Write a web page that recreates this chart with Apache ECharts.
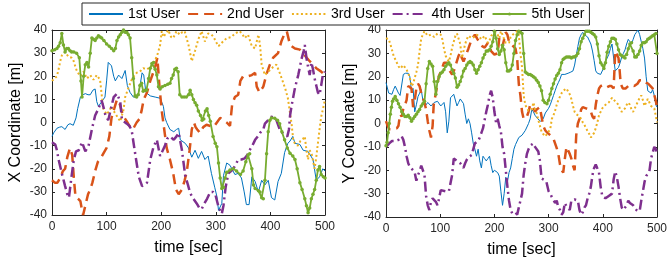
<!DOCTYPE html>
<html>
<head>
<meta charset="utf-8">
<script src="https://cdn.jsdelivr.net/npm/echarts@6/dist/echarts.min.js"></script>
<style>
  html, body { margin: 0; padding: 0; background: #fff; }
  #main { width: 670px; height: 268px; }
</style>
</head>
<body>
<div id="main"></div>
<script>
// legend names
const userNames = ['1st User', '2nd User', '3rd User', '4th User', '5th User']

// X coordinate [m] vs time [sec], left panel
const xUser1 = [[0,-6],[3,-4.5],[9,-2.5],[14,-2],[18,-1.8],[24,-3],[29,-1],[33,-0.5],[39,-1.2],[44,2],[47,6],[52,11],[57,12],[61,12.5],[66,12],[70,12],[75,14],[79,14.5],[82,9],[85,7],[91,9],[97,11],[100,18],[103,26],[109,24.5],[113,20],[116,18],[122,20.5],[128,19],[134,22.5],[138,16],[143,13],[149,11],[154,11],[158,12.5],[162,17],[165,21.5],[168,20.5],[172,13],[180,11.5],[189,11],[198,10.5],[204,7],[207,2],[210,0],[216,-3],[223,-4],[228,-3],[232,-2.5],[235,-7.5],[244,-9],[250,-11],[253,-13],[256,-15],[262,-12],[268,-15.5],[274,-12.5],[280,-16],[286,-14.5],[292,-22],[298,-28],[302,-32],[305,-38],[308,-37.5],[311,-35],[314,-23],[320,-17.5],[326,-18.5],[335,-22.5],[341,-22],[347,-24],[352,-30],[356,-35.5],[361,-35.5],[366,-23.5],[372,-25.5],[378,-30],[384,-25],[390,-27],[396,-25],[402,-32.5],[408,-33.5],[414,-25.5],[420,-22],[426,-13],[432,-9],[436,-8],[441,-6],[445,-9],[454,-9.5],[460,-12],[469,-12.5],[478,-16],[484,-25],[490,-23.5],[496,-20],[500,-21]]
const xUser2 = [[0,-25],[5,-26],[10,-26],[15,-24],[20,-21],[24,-20],[28,-15],[33,-11],[37,-14],[40,-24],[43,-32],[48,-33],[52,-34],[55,-38],[57,-40],[62,-35],[66,-31],[70,-29],[74,-26],[79,-21],[84,-17],[88,-16],[95,-13],[100,-11],[105,-6],[109,2],[114,6],[119,10],[124,8],[130,3],[137,0.5],[143,-2],[148,-3],[155,0],[160,1.5],[164,5],[168,10],[174,13],[180,18],[186,22],[190,25],[193,28],[197,15],[201,5],[205,-2],[210,-11],[216,-16],[222,-22],[227,-29],[232,-31],[238,-29],[243,-25],[247,-21],[252,-12],[256,-3],[260,0],[263,-2],[266,-3],[271,-4.5],[277,-2],[283,-1],[290,-1.5],[296,-2],[302,0],[308,2],[314,1],[320,0],[326,-1.5],[330,8],[335,11],[341,12],[345,18],[350,20],[359,20],[366,20.5],[372,21.5],[375,15.5],[380,13],[387,15.5],[393,21],[399,25],[405,28],[414,30],[420,35],[426,38.5],[430,39.5],[436,33.5],[445,32],[454,31.5],[463,29],[472,26.5],[478,25],[484,23.5],[493,22],[500,20.5]]
const xUser3 = [[0,18],[3,18.5],[9,20],[13,24],[15,26.5],[18,29],[24,30.5],[30,28.5],[36,28],[39,27],[43,24],[46,22],[52,20],[58,22],[64,19],[70,20.5],[76,18.5],[82,20.5],[88,18.5],[91,12],[94,6],[100,3.5],[105,5],[109,7],[113,5],[116,5.5],[121,2],[125,0.5],[128,3],[131,5.5],[134,11],[140,15],[146,18.5],[150,20],[155,21.5],[161,22],[167,23.5],[174,23],[180,24],[185,25],[189,27],[194,30],[198,33.5],[201,39.5],[204,37],[207,36.5],[213,40],[218,37],[222,36.5],[228,39.5],[234,38],[238,39],[243,39.5],[247,36],[250,33.5],[253,30],[256,26.5],[262,31],[268,36],[274,39.5],[280,35],[286,38.5],[292,38],[296,37],[300,35],[305,33],[311,34.5],[320,36.5],[329,37],[335,38.5],[344,39.5],[349,38],[353,36.5],[359,38],[366,33],[372,32],[378,38],[381,33.5],[384,25],[390,20.5],[396,22],[405,24],[411,25],[417,21.5],[423,17.5],[428,14],[432,10.5],[436,4],[439,-1],[442,-8],[445,-9],[450,-10],[455,-8],[460,-7],[463,-6],[466,-12],[469,-16],[472,-12],[476,-14],[481,-20],[484,-15],[487,-9],[490,-3],[493,2.5],[496,5.5],[500,10]]
const xUser4 = [[0,-8.5],[6,-9.5],[9,-12],[12,-16],[18,-22],[24,-27.5],[28,-31],[31,-32.5],[36,-23],[40,-16],[44,-12.5],[49,-12],[55,-8.5],[61,-12.5],[67,-10],[73,-3],[79,3],[85,6],[91,9.5],[95,6],[98,3],[103,1],[108,6],[113,11],[119,12.5],[122,12],[125,9],[128,1.5],[131,0.5],[137,-0.5],[142,-1.5],[146,-3.5],[152,-13],[156,-19],[159,-23.5],[165,-27.5],[170,-27],[174,-26],[180,-16],[186,-10.5],[192,-7.5],[198,-14.5],[203,-12],[207,-10],[211,-7],[216,-6],[223,-7.5],[228,-6],[232,-4.5],[238,-12],[244,-23],[249,-27],[253,-30.5],[259,-33],[265,-35],[270,-37],[274,-37.5],[279,-35],[284,-33],[290,-30],[295,-30],[299,-31],[305,-36.5],[311,-39.5],[314,-36],[318,-28],[323,-22],[328,-21],[332,-20],[337,-18],[341,-16],[347,-16],[353,-15.5],[358,-14],[362,-12],[367,-10],[372,-7.5],[377,-6],[381,-4.5],[387,-3],[390,-0.5],[396,1],[402,2.5],[407,2],[411,1],[417,-3],[422,-4.5],[426,-5.5],[431,-6],[434,-3],[436,3],[439,7.5],[445,15],[451,20.5],[457,27.5],[461,31],[463,33.5],[466,28],[469,24],[472,20.5],[475,26],[478,23],[481,19],[484,16],[487,13],[490,12],[493,16],[496,20.5],[500,22]]
const xUser5 = [[0,31],[5,31.5],[9,32],[12,33],[15,34.5],[18,38.5],[21,33.5],[24,30.5],[27,32],[30,32],[33,31],[36,30.5],[40,30.5],[45,30],[50,28],[53,18],[55,11],[58,20],[61,25],[64,26],[67,24],[70,30],[73,36.5],[76,36],[79,35.5],[82,36.5],[85,37.5],[88,37],[91,36.5],[95,35.5],[100,34],[105,33],[109,32],[113,31],[116,32],[119,35.5],[122,37],[125,38],[128,39],[131,40],[134,39],[137,39],[140,38],[143,36.5],[146,28],[149,19],[152,11.5],[155,11],[158,12],[161,16],[164,17],[167,13.5],[170,14],[173,14],[177,19],[180,23.5],[183,25.5],[186,26],[189,23],[192,20.5],[195,15.5],[198,14.5],[202,15.5],[207,16],[212,16.5],[216,17],[219,19],[222,20.5],[225,23],[228,23.5],[231,22],[234,12],[238,11],[242,11],[246,11],[250,12],[253,14],[256,12],[259,10],[262,8.5],[265,7.5],[268,5],[272,3],[275,1],[278,1.5],[281,5],[284,6],[287,3],[290,0.5],[295,-6],[299,-9],[302,-10.5],[305,-17.5],[308,-24],[311,-28.5],[314,-28],[317,-24],[320,-21.5],[326,-20.5],[332,-20],[338,-21],[345,-22.5],[350,-21],[355,-17],[359,-14],[362,-13.5],[366,-20],[369,-27],[372,-28.5],[378,-29.5],[381,-30],[384,-32.5],[387,-33],[390,-25],[393,-13.5],[396,-4],[399,1],[402,2],[408,1.8],[413,1],[417,-0.5],[421,-4],[426,-7.5],[431,-11],[436,-13.3],[441,-14.5],[445,-16],[449,-20],[454,-26],[458,-29],[463,-33],[466,-36],[469,-39],[472,-37],[475,-33],[478,-31],[481,-29],[484,-25],[487,-20.5],[490,-19],[493,-22.5],[497,-23.5],[500,-24]]

// Y coordinate [m] vs time [sec], right panel
const yUser1 = [[0,17.5],[5,13],[8,12.5],[11,12.5],[14,14.5],[17,16],[20,16.5],[23,13],[26,12],[29,12.5],[32,21],[36,21.5],[41,21.5],[44,20],[47,14],[50,15],[53,5],[56,8],[59,11.5],[62,13],[65,14.5],[68,10],[71,9],[74,8],[77,9],[80,9.5],[83,7.5],[86,8],[89,9],[95,9.5],[101,7.5],[107,9],[110,5],[113,-4],[116,1],[119,11],[125,12.5],[128,12],[131,7.5],[134,9],[137,10.5],[143,8.5],[146,4],[149,0],[152,2],[155,0],[158,-4],[161,-8.5],[164,-11],[167,-14],[170,-11],[173,-16],[176,-19],[179,-14],[182,-15],[185,-16],[188,-15],[191,-14],[194,-18],[197,-21],[200,-20],[203,-20],[206,-21],[209,-22.5],[212,-29],[215,-35],[218,-30],[221,-23],[224,-25],[227,-21],[230,-19],[233,-15],[236,-11],[239,-9],[242,-7.5],[245,-6],[248,-5.5],[251,-5],[254,-5],[257,-3],[260,-1.5],[263,0],[266,2],[269,6],[272,5],[275,3.5],[280,2],[285,1],[290,2],[294,4.5],[297,5],[300,6.5],[303,8],[306,10],[309,12],[312,14],[315,16],[318,17.5],[321,19],[324,21],[330,21],[336,21.5],[341,22],[345,22.5],[348,25],[351,29],[354,33],[357,36.5],[360,38],[363,39],[366,38],[369,37.5],[372,37],[375,36.5],[378,34],[381,31],[384,27],[387,22.5],[390,21.5],[393,21],[396,21],[399,21.5],[402,24],[405,26.5],[408,28],[411,29.5],[414,32],[417,34],[420,28],[423,22.5],[426,23],[429,24],[432,26],[435,28.5],[438,30],[441,31.5],[444,34],[447,36],[450,35],[453,34],[456,36],[459,38],[462,39],[465,40],[468,38],[471,35],[474,32],[477,28],[480,20],[483,14],[486,13.5],[489,13],[492,14.5],[495,12],[498,8],[500,7]]
const yUser2 = [[0,1],[3,-1],[6,-2.5],[10,-2.5],[15,-2],[20,-2],[23,-1],[26,4],[29,3],[32,6.5],[35,8],[38,10],[41,16],[44,15.5],[47,15],[50,7],[53,10],[56,15],[59,17],[62,16],[65,13],[68,11],[71,9],[74,6],[77,1],[80,-3],[83,-6],[86,-1],[88,8],[92,13],[95,17],[98,20.5],[101,22],[104,24],[107,26],[110,26.5],[113,26],[116,23],[119,22],[122,21],[126,23],[130,26],[134,29],[137,30.5],[140,28],[143,26.5],[147,29],[152,32],[158,36],[164,38],[169,36],[173,34.5],[178,33],[182,32.5],[188,34.5],[194,31],[200,29.5],[206,30],[209,36.5],[212,35],[215,33],[218,36],[221,39],[224,38],[227,35],[230,35],[235,33],[239,32],[242,28],[245,17],[248,12],[251,5],[254,2],[257,2.5],[260,3],[263,5],[266,8],[269,8],[272,7],[275,5],[278,6],[281,6.5],[284,7],[287,3],[290,-1],[294,-3],[298,-4],[303,-5],[309,-6.5],[315,-10.5],[318,-13],[321,-17.5],[324,-20],[327,-21],[330,-15],[333,-10],[336,-10.5],[339,-13],[342,-15],[345,-18],[348,-20],[351,-5],[354,0],[357,2],[360,6],[363,7],[366,7.5],[369,6.5],[372,6],[375,6],[378,5],[381,3],[384,2],[387,8],[390,12],[393,15],[396,16],[400,16.5],[404,16],[408,15.5],[412,16],[416,16],[420,15],[423,31],[426,29.5],[429,28],[431,23],[433,17],[437,15],[442,15],[447,16],[452,16.5],[458,16],[464,17],[468,18.5],[471,19],[476,18.5],[480,17.5],[484,17],[488,16],[492,15],[495,14.5],[498,9.5],[500,7]]
const yUser3 = [[0,36.5],[5,36],[8,34],[11,31.5],[14,29],[17,27.5],[20,26],[23,24.5],[26,23.5],[29,24],[32,25],[35,25],[38,23],[41,21.5],[44,19.5],[47,16],[50,17],[53,19.5],[56,22],[59,25],[62,31],[65,36.5],[68,38],[71,39.5],[74,38.5],[77,37.5],[80,38],[83,38],[86,37.5],[89,37],[92,37.5],[95,38.5],[98,39],[101,38],[104,36],[107,32],[110,29],[113,27.5],[116,26.5],[119,29],[122,32.5],[125,35],[128,37.5],[131,38.5],[134,39],[137,34],[140,28],[143,31],[146,34],[149,36],[152,37.5],[155,37],[158,36.5],[162,37],[167,38],[171,37.5],[176,36],[179,36.5],[182,37.5],[185,36],[188,34.5],[191,35.5],[194,37.5],[198,38.5],[203,39],[206,38],[209,36.5],[212,39.5],[215,38],[218,36],[221,34.5],[224,35],[227,34.5],[230,37],[233,36.5],[236,38.5],[239,39],[242,39.5],[245,38],[248,30],[251,24],[254,12],[257,8],[260,6.5],[263,5.5],[266,5],[269,6],[272,9],[275,6],[278,4.5],[281,1.5],[284,-1],[287,-3.5],[290,-4.5],[294,-5.5],[297,-4.5],[300,-3.5],[303,-2.5],[306,2],[309,3.5],[312,5.5],[315,8],[318,10],[321,11.5],[324,13],[327,14],[330,14.5],[333,15],[336,14.5],[339,12.5],[342,10.5],[345,7.5],[348,5],[351,4],[354,4.5],[357,3],[360,2],[363,0.5],[366,-0.5],[369,-2],[372,-2],[375,-4.5],[378,-6],[381,-6.5],[384,-4],[387,-2],[390,0.5],[393,3.5],[396,5],[399,6.5],[402,7],[405,8],[408,7.5],[411,9],[414,10],[417,11],[420,10.5],[423,9.5],[426,9],[429,8],[432,6],[435,5],[438,5.5],[441,6.5],[444,8],[447,9],[450,8],[453,6],[456,5],[459,6.5],[462,8],[465,9.5],[468,11],[471,12],[474,10],[477,7.5],[480,9],[483,10.5],[486,9],[489,7.5],[492,7],[495,6.5],[498,3],[500,0.5]]
const yUser4 = [[0,-10],[3,-9.5],[6,-8.5],[11,-7.5],[17,-7.5],[23,-7],[29,-5.5],[32,-7],[35,-10],[38,-14],[41,-17],[44,-18.5],[47,-19],[50,-20],[53,-21],[56,-24.5],[59,-22],[62,-20.5],[65,-18],[68,-17.5],[71,-22],[74,-31],[77,-35],[80,-37],[83,-33.5],[86,-32],[89,-32.5],[92,-33.5],[95,-35],[98,-32],[101,-28.5],[104,-29],[110,-29],[116,-29],[119,-29],[122,-22],[125,-15],[128,-15.5],[131,-16],[134,-16.5],[137,-17],[140,-18],[143,-19],[146,-17],[149,-15.5],[152,-14.5],[155,-14],[158,-13.5],[161,-11],[164,-8.5],[167,-8],[170,-7.5],[173,-6],[176,-4],[179,-2],[182,1.5],[185,5],[188,8],[191,12],[194,14],[197,11],[200,5],[203,0.5],[206,2],[209,-1],[212,-3.5],[215,-10],[218,-13],[221,-20],[224,-27],[227,-33],[230,-37],[233,-38.5],[236,-38],[239,-38],[242,-39],[245,-36],[248,-33],[251,-30],[254,-22],[257,-17],[260,-13],[263,-11],[266,-9.5],[269,-9],[272,-8.5],[275,-10],[278,-10.5],[281,-12],[284,-16],[287,-23.5],[291,-24],[296,-25],[300,-29],[303,-30],[306,-31.5],[309,-32],[312,-34],[315,-33],[318,-36],[321,-37],[324,-39],[327,-38],[330,-34],[333,-35.5],[336,-36],[339,-37],[342,-33],[345,-32.5],[348,-32.5],[351,-32.5],[354,-33],[357,-37],[360,-39],[363,-38],[366,-36],[369,-35],[372,-32],[375,-30],[378,-27],[381,-22],[384,-19],[387,-17.5],[390,-18],[393,-21],[396,-27],[399,-31],[402,-31],[405,-32],[408,-32],[411,-31],[414,-31],[417,-30],[420,-24],[423,-20.5],[426,-23],[429,-27],[432,-32],[435,-36],[438,-37],[441,-37.5],[444,-35],[447,-33],[450,-34],[453,-34.5],[456,-35],[459,-36],[462,-37],[465,-37.5],[468,-37.5],[471,-33],[474,-29],[477,-25],[480,-22.5],[483,-21.5],[486,-20.5],[489,-15],[492,-12.5],[495,-10],[498,-11],[500,-13]]
const yUser5 = [[0,-9.5],[2,-8],[4,-4],[6,0],[8,4],[10,7],[12,9.5],[14,10.5],[17,11.5],[20,10],[23,8.5],[26,7],[29,5],[32,4],[35,3],[38,3],[41,3.5],[44,2.5],[47,1],[50,2],[53,3],[56,4],[59,5],[62,6],[65,7.5],[68,8.5],[71,9.5],[74,17],[77,23.5],[80,26.5],[83,25.5],[86,24.5],[89,18],[92,12.5],[95,18],[98,20],[101,21.5],[104,22],[107,23],[110,24.5],[113,25.5],[116,26],[119,25],[122,23],[125,21.5],[128,19.5],[131,15.5],[134,16.5],[137,18],[140,20],[143,22.5],[146,23.5],[149,25],[152,26],[155,26.5],[158,26],[161,25],[164,23],[167,21.5],[170,23],[173,24.5],[176,26],[179,28],[182,29.5],[185,31],[188,31],[191,31.5],[194,33],[197,35],[200,39.5],[203,36.5],[206,32],[209,29.5],[212,31],[215,33.5],[218,31.5],[221,26],[224,22.5],[227,22.5],[230,23],[233,25],[236,30],[239,35.5],[242,38],[245,39.5],[248,39],[251,38.5],[254,30],[257,22],[260,21.5],[263,21],[266,21],[269,20.5],[272,20],[275,19.5],[278,18.5],[281,17.5],[284,16],[287,14],[290,10],[293,9],[297,8.5],[300,10],[303,12.5],[306,15],[309,17],[312,19],[315,20.5],[318,21.5],[321,23],[324,26],[327,27.5],[330,28],[333,28.5],[336,28.5],[339,28.5],[342,28],[345,28.5],[348,28.5],[351,29],[354,30],[357,32],[360,35],[363,36.5],[366,38],[369,39.5],[372,39.5],[375,39.5],[378,39],[381,38.5],[384,38],[387,37],[390,34],[393,29],[396,26],[399,25],[402,23.5],[405,26],[408,30.5],[411,33],[414,35],[417,36.5],[420,36.5],[423,36],[426,34],[429,31.5],[432,29.5],[435,29],[438,28.5],[441,28],[444,29.5],[447,32],[450,34],[453,34.5],[456,31],[459,28.5],[462,28.5],[465,29.5],[468,31],[471,33.5],[474,34.5],[477,34.5],[480,35],[483,36],[486,36.5],[489,37],[492,37.5],[495,38],[498,38.5],[500,30]]

const colors = ['#0072BD', '#D95319', '#EDB120', '#7E2F8E', '#77AC30']
const lineTypes = [
    { width: 1, type: 'solid' },
    { width: 2.5, type: [10, 6] },
    { width: 2, type: [2, 2.5] },
    { width: 2.5, type: [10, 4, 2, 4] },
    { width: 1.8, type: 'solid' },
]
const font = 'Liberation Sans, Helvetica, Arial, sans-serif'
const axisColor = '#262626'

function xAxes(g) {
    const base = {
        gridIndex: g, type: 'value', min: 0, max: 500, interval: 100,
        axisLine: { show: true, onZero: false, lineStyle: { color: axisColor, width: 1 } },
        axisTick: { show: true, inside: true, length: 3, lineStyle: { color: axisColor } },
        splitLine: { show: false },
    }
    return [
        Object.assign({}, base, {
            position: 'bottom',
            name: 'time [sec]', nameLocation: 'middle', nameGap: 25,
            nameTextStyle: { fontSize: 16, color: '#000', fontFamily: font },
            axisLabel: { fontSize: 12, color: axisColor, margin: 6, fontFamily: font },
        }),
        Object.assign({}, base, { position: 'top', axisLabel: { show: false } }),
    ]
}

function yAxes(g, name) {
    const base = {
        gridIndex: g, type: 'value', min: -40, max: 40, interval: 10,
        axisLine: { show: true, onZero: false, lineStyle: { color: axisColor, width: 1 } },
        axisTick: { show: true, inside: true, length: 3, lineStyle: { color: axisColor } },
        splitLine: { show: false },
    }
    return [
        Object.assign({}, base, {
            position: 'left',
            name: name, nameLocation: 'middle', nameGap: 28, nameRotate: 90,
            nameTextStyle: { fontSize: 16, color: '#000', fontFamily: font },
            axisLabel: { fontSize: 12, color: axisColor, margin: 5, fontFamily: font },
        }),
        Object.assign({}, base, { position: 'right', axisLabel: { show: false } }),
    ]
}

function makeSeries(data, i, g) {
    const s = {
        name: userNames[i],
        type: 'line',
        xAxisIndex: g * 2,
        yAxisIndex: g * 2,
        data: data,
        color: colors[i],
        lineStyle: { color: colors[i], width: lineTypes[i].width, type: lineTypes[i].type },
        symbol: 'none',
        clip: true,
        silent: true,
    }
    if (i === 4) {
        s.symbol = 'circle'
        s.symbolSize = 3.5
        s.showSymbol = true
        s.itemStyle = { color: colors[i] }
    }
    return s
}

const leftData = [xUser1, xUser2, xUser3, xUser4, xUser5]
const rightData = [yUser1, yUser2, yUser3, yUser4, yUser5]

// legend: plain line samples, only the 5th keeps its (small) marker
const legendItems = userNames.map((n, i) => (
    i === 4 ? { name: n } : { name: n, itemStyle: { opacity: 0 } }
))

const chart = echarts.init(document.getElementById('main'), null, { renderer: 'canvas' })
chart.setOption({
    animation: false,
    backgroundColor: '#fff',
    textStyle: { fontFamily: font },
    legend: {
        data: legendItems,
        left: 82,
        top: 3,
        padding: [4, 5, 4, 6],
        itemWidth: 34,
        itemHeight: 4,
        itemGap: 7,
        borderColor: axisColor,
        borderWidth: 1,
        backgroundColor: '#fff',
        textStyle: { fontSize: 14, color: '#000', fontFamily: font },
    },
    grid: [
        { left: 52, top: 30, width: 273, height: 185 },
        { left: 386, top: 30, width: 277, height: 187 },
    ],
    xAxis: xAxes(0).concat(xAxes(1)),
    yAxis: yAxes(0, 'X Coordinate [m]').concat(yAxes(1, 'Y Coordinate [m]')),
    series: leftData.map((d, i) => makeSeries(d, i, 0))
        .concat(rightData.map((d, i) => makeSeries(d, i, 1))),
})
</script>
</body>
</html>
